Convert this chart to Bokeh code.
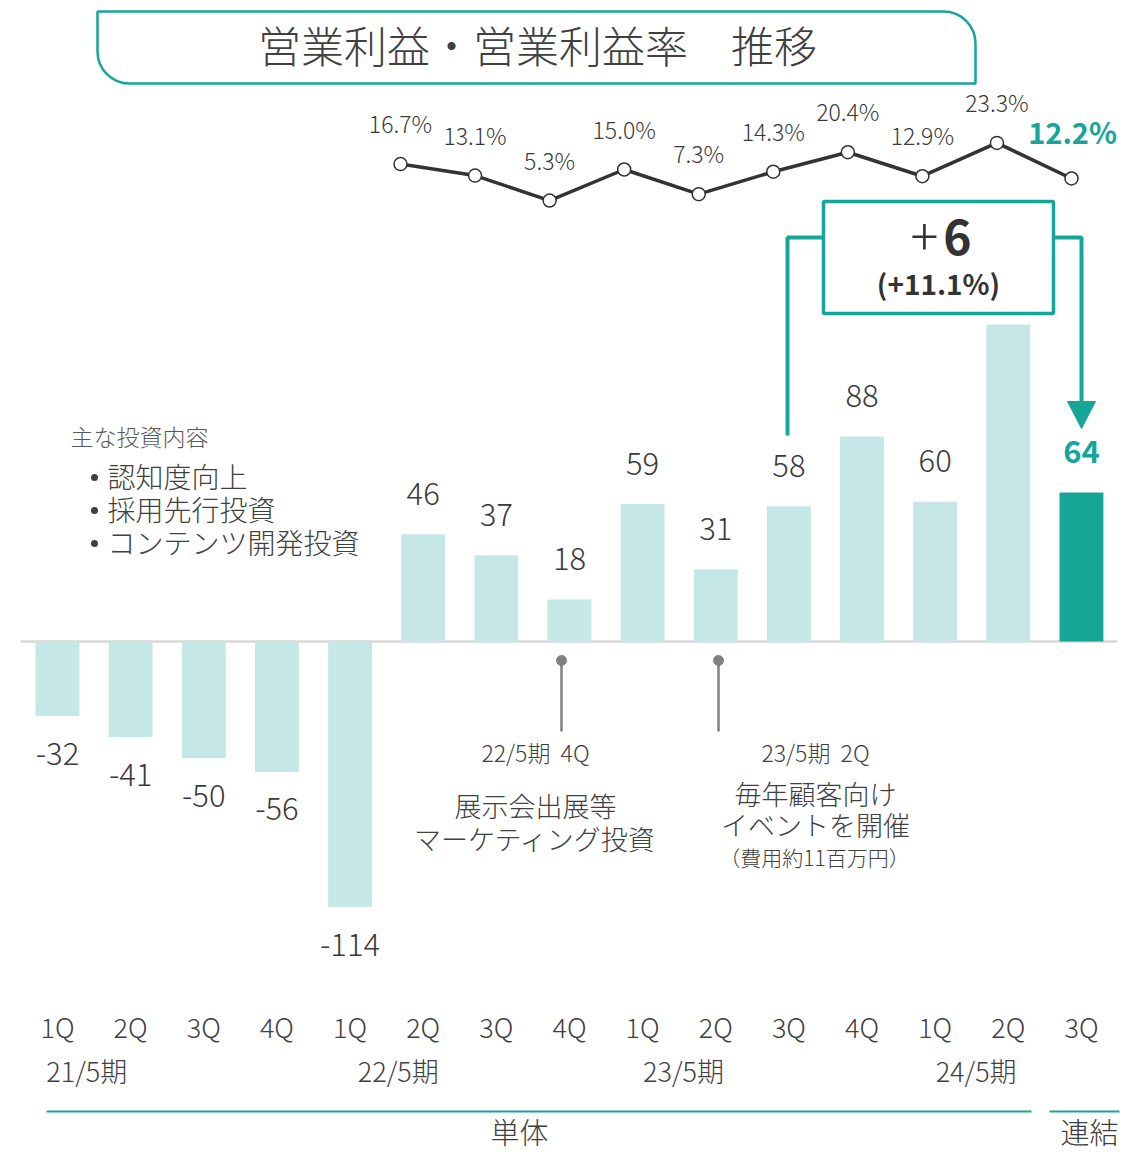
from bokeh.plotting import figure
from bokeh.models import ColumnDataSource, Range1d, BoxAnnotation
from bokeh.core.properties import value
from bokeh.embed import file_html
from bokeh.resources import INLINE

# ---------------- data ----------------
quarters = ["1Q", "2Q", "3Q", "4Q", "1Q", "2Q", "3Q", "4Q",
            "1Q", "2Q", "3Q", "4Q", "1Q", "2Q", "3Q"]
profit = [-32, -41, -50, -56, -114, 46, 37, 18, 59, 31, 58, 88, 60, 136, 64]
profit_labels = ["-32", "-41", "-50", "-56", "-114", "46", "37", "18",
                 "59", "31", "58", "88", "60", "", "64"]
rate = [16.7, 13.1, 5.3, 15.0, 7.3, 14.3, 20.4, 12.9, 23.3, 12.2]
rate_labels = ["16.7%", "13.1%", "5.3%", "15.0%", "7.3%", "14.3%",
               "20.4%", "12.9%", "23.3%", "12.2%"]
rate_start = 5  # rate line starts at 2Q of 22/5
years = ["21/5期", "22/5期", "23/5期", "24/5期"]
year_pos = [0.4, 4.66, 8.56, 12.56]
segments = ["単体", "連結"]
title = "営業利益・営業利益率　推移"
invest_title = "主な投資内容"
invest_items = ["認知度向上", "採用先行投資", "コンテンツ開発投資"]

# ---------------- styling ----------------
FONT = value("Noto Sans CJK JP Light")
BFONT = value("Noto Sans CJK JP")
TEAL = "#16A697"
LIGHT = "#C5E8E6"
DARK = "#3A3A3A"
GREY = "#404040"

W, H = 1121, 1152
# reference pixel -> data helpers (used for decorations only)
def X(xr):
    return (xr - 57) / 73.14

def Y(yr):
    return (641 - yr) / 2.33

p = figure(width=W, height=H, output_backend="svg", toolbar_location=None,
           x_range=Range1d(X(0), X(W)), y_range=Range1d(Y(H), Y(0)),
           x_axis_location=None, y_axis_location=None, min_border=0,
           outline_line_color=None, background_fill_color="white")
p.grid.visible = False
p.extra_y_ranges = {"rate": Range1d((217 - H) / 3.2, 217 / 3.2)}
p.extra_x_ranges = {"rate_x": Range1d(5 + (0 - 400) / 74.556, 5 + (W - 400) / 74.556)}

def txt(xs, ys, texts, size, color=GREY, font=FONT, align="center", style="normal", **kw):
    p.text(x=xs, y=ys, text=texts, text_font=font, text_font_size=size, text_color=color,
           text_align=align, text_baseline="middle", text_font_style=style, **kw)

# title box
p.add_layout(BoxAnnotation(left=X(97), right=X(975), top=Y(11), bottom=Y(83),
                           fill_color=None, fill_alpha=0, line_color=TEAL, line_alpha=1.0,
                           line_width=2.5, border_radius=(0, 32, 0, 32), level="underlay"))
txt([X(537)], [Y(43)], [title], "43px")

# baseline
p.line(x=[X(20), X(1117)], y=[0, 0], line_color="#D9D9D9", line_width=2.5)

# bars
idx = list(range(len(profit)))
bar_colors = [LIGHT] * (len(profit) - 1) + [TEAL]
src = ColumnDataSource(dict(x=idx, top=profit, color=bar_colors))
p.vbar(x="x", top="top", bottom=0, width=0.6, fill_color="color", line_color=None, source=src)
n = len(profit) - 1
lsrc = ColumnDataSource(dict(x=idx[:n], y=profit[:n], lab=profit_labels[:n],
                             off=[-41 if v >= 0 else 37 for v in profit[:n]]))
p.text(x="x", y="y", text="lab", y_offset="off", text_font=FONT, text_font_size="31px",
       text_color=DARK, text_align="center", text_baseline="middle", source=lsrc)
txt([idx[n]], [profit[n]], [profit_labels[n]], "31px", color=TEAL, font=BFONT,
    style="bold", y_offset=-41)

# rate line
rx = [rate_start + k for k in range(len(rate))]
rsrc = ColumnDataSource(dict(x=rx, y=rate))
p.line(x="x", y="y", source=rsrc, x_range_name="rate_x", y_range_name="rate",
       line_color="#333333", line_width=3.5)
p.scatter(x="x", y="y", source=rsrc, x_range_name="rate_x", y_range_name="rate",
          size=13, fill_color="white", line_color="#333333", line_width=1.5)
m = len(rate) - 1
txt(rx[:m], rate[:m], rate_labels[:m], "23px", color=DARK, y_offset=-41,
    x_range_name="rate_x", y_range_name="rate")
txt([rx[m]], [rate[m]], [rate_labels[m]], "29px", color=TEAL, font=BFONT, style="bold",
    y_offset=-47, x_offset=1, x_range_name="rate_x", y_range_name="rate")

# change box and bracket
p.line(x=[X(787), X(787), X(822)], y=[Y(435), Y(237), Y(237)], line_color=TEAL, line_width=4)
p.line(x=[X(1054), X(1081), X(1081)], y=[Y(237), Y(237), Y(403)], line_color=TEAL, line_width=4)
p.patch(x=[X(1067), X(1095), X(1081)], y=[Y(401), Y(401), Y(428)], fill_color=TEAL, line_color=TEAL)
p.quad(left=[X(823)], right=[X(1053)], top=[Y(201)], bottom=[Y(313)],
       fill_color="white", line_color=TEAL, line_width=3.5)
txt([X(924)], [Y(236)], ["+"], "52px", color="#333333")
txt([X(957)], [Y(236)], ["6"], "48px", color="#333333", font=BFONT, style="bold")
txt([X(938)], [Y(282)], ["(+11.1%)"], "28px", color="#333333", font=BFONT, style="bold")

# investment note
txt([X(70)], [Y(435)], [invest_title], "23px", color="#595959", align="left")
p.scatter(x=[X(94)] * 3, y=[Y(477), Y(510), Y(543)], size=7, fill_color=GREY, line_color=None)
txt([X(107)] * 3, [Y(475), Y(508), Y(541)], invest_items, "28px", color=GREY, align="left")

# pins
for xr in (561, 718):
    p.line(x=[X(xr), X(xr)], y=[Y(660), Y(731)], line_color="#808080", line_width=2.5)
    p.scatter(x=[X(xr)], y=[Y(660)], size=10, fill_color="#808080", line_color="#808080")
txt([X(535), X(815)], [Y(751), Y(751)], ["22/5期\u00a0\u00a04Q", "23/5期\u00a0\u00a02Q"], "23px")
txt([X(535), X(535), X(815), X(815)], [Y(805), Y(838), Y(793), Y(824)],
    ["展示会出展等", "マーケティング投資", "毎年顧客向け", "イベントを開催"], "27px")
txt([X(814)], [Y(856)], ["（費用約11百万円）"], "21px")

# category labels
txt(idx, [Y(1026)] * len(idx), quarters, "27px")
txt(year_pos, [Y(1070)] * len(years), years, "27px")
p.line(x=[X(46), X(1031)], y=[Y(1111)] * 2, line_color=TEAL, line_width=2)
p.line(x=[X(1049), X(1119)], y=[Y(1111)] * 2, line_color=TEAL, line_width=2)
txt([X(519), X(1089)], [Y(1130)] * 2, segments, "29px")

open("out.html", "w").write(file_html(p, INLINE))
